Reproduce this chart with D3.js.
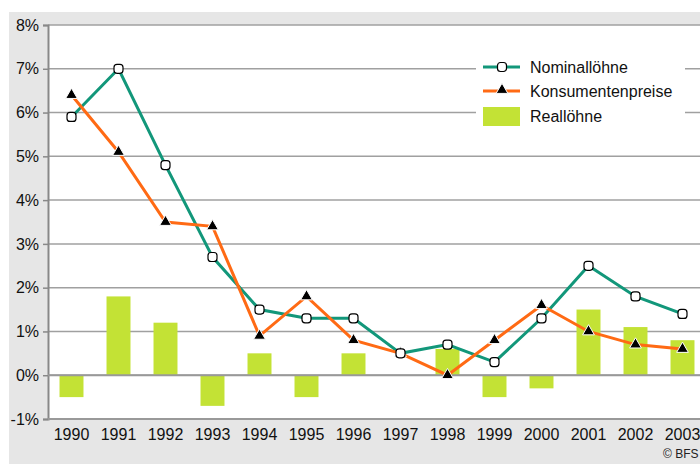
<!DOCTYPE html>
<html>
<head>
<meta charset="utf-8">
<script src="https://cdn.jsdelivr.net/npm/d3@7"></script>
<style>
  body { margin: 0; background: #fff; }
  svg { display: block; font-family: "Liberation Sans", Arial, sans-serif; }
  .grid line { stroke: #a0a0a0; stroke-width: 1.5; }
  .tick text { fill: #111; font-size: 16px; }
</style>
</head>
<body>
<svg id="chart" width="700" height="464"></svg>
<script>
var years = ['1990', '1991', '1992', '1993', '1994', '1995', '1996', '1997', '1998', '1999', '2000', '2001', '2002', '2003']
var nominal = [5.9, 7.0, 4.8, 2.7, 1.5, 1.3, 1.3, 0.5, 0.7, 0.3, 1.3, 2.5, 1.8, 1.4]
var prices = [6.4, 5.1, 3.5, 3.4, 0.9, 1.8, 0.8, 0.5, 0.0, 0.8, 1.6, 1.0, 0.7, 0.6]
var real = [-0.5, 1.8, 1.2, -0.7, 0.5, -0.5, 0.5, 0.0, 0.6, -0.5, -0.3, 1.5, 1.1, 0.8]
var yTicks = [-1, 0, 1, 2, 3, 4, 5, 6, 7, 8]
var seriesNames = ['Nominallöhne', 'Konsumentenpreise', 'Reallöhne']

var svg = d3.select('#chart')
var width = 700, height = 464
var plotLeft = 48, plotTop = 25, plotBottom = 419
var green = '#12977a', orange = '#ff6a14', lime = '#c3e235'

// background
svg.append('rect').attr('x', 9).attr('y', 12).attr('width', width - 9).attr('height', height - 12)
  .attr('fill', '#e6e6e6')

var x = d3.scaleBand().domain(years).range([plotLeft, plotLeft + 14 * 47])
  .paddingInner(0.49).paddingOuter(0.245)
var y = d3.scaleLinear().domain([-1, 8]).range([plotBottom, plotTop])

// plot area
svg.append('rect').attr('x', plotLeft).attr('y', plotTop)
  .attr('width', width - plotLeft).attr('height', plotBottom - plotTop)
  .attr('fill', '#fff')

// gridlines
svg.append('g').attr('class', 'grid')
  .selectAll('line').data(yTicks).enter().append('line')
  .attr('x1', plotLeft).attr('x2', width)
  .attr('y1', function(d) { return y(d) }).attr('y2', function(d) { return y(d) })

// y axis
var yAxis = svg.append('g').attr('transform', 'translate(' + plotLeft + ',0)')
  .call(d3.axisLeft(y).tickValues(yTicks).tickSize(5).tickPadding(4)
    .tickFormat(function(d) { return d + '%' }))
yAxis.select('.domain').attr('stroke', '#888').attr('stroke-width', 2)
yAxis.selectAll('.tick line').attr('stroke', '#888').attr('stroke-width', 1.5)

// x axis
var xAxis = svg.append('g').attr('transform', 'translate(0,' + plotBottom + ')')
  .call(d3.axisBottom(x).tickSize(0).tickPadding(10))
xAxis.select('.domain').remove()
svg.append('line').attr('x1', plotLeft).attr('x2', width).attr('y1', plotBottom).attr('y2', plotBottom)
  .attr('stroke', '#999').attr('stroke-width', 2)

// bars
svg.append('g').selectAll('rect').data(real).enter().append('rect')
  .attr('x', function(d, i) { return x(years[i]) })
  .attr('width', x.bandwidth())
  .attr('y', function(d) { return y(Math.max(0, d)) })
  .attr('height', function(d) { return Math.abs(y(d) - y(0)) })
  .attr('fill', lime)

// zero line over bars
svg.append('line').attr('x1', plotLeft).attr('x2', width).attr('y1', y(0)).attr('y2', y(0))
  .attr('stroke', '#999').attr('stroke-width', 2)

var cx = function(d, i) { return x(years[i]) + x.bandwidth() / 2 }
var line = d3.line().x(cx).y(function(d) { return y(d) })

svg.append('path').attr('d', line(nominal)).attr('fill', 'none')
  .attr('stroke', green).attr('stroke-width', 3)
svg.append('path').attr('d', line(prices)).attr('fill', 'none')
  .attr('stroke', orange).attr('stroke-width', 3)

var triangle = d3.symbol().type(d3.symbolTriangle).size(60)

svg.append('g').selectAll('path').data(prices).enter().append('path')
  .attr('d', triangle)
  .attr('transform', function(d, i) { return 'translate(' + cx(d, i) + ',' + y(d) + ')' })
  .attr('fill', '#000').attr('stroke', '#fff').attr('stroke-width', 1)

svg.append('g').selectAll('rect').data(nominal).enter().append('rect')
  .attr('x', function(d, i) { return cx(d, i) - 4.5 })
  .attr('y', function(d) { return y(d) - 4.5 })
  .attr('width', 9).attr('height', 9).attr('rx', 3)
  .attr('fill', '#fff').attr('stroke', '#000').attr('stroke-width', 1.2)

// legend
var legend = svg.append('g')
legend.append('rect').attr('x', 476).attr('y', 46).attr('width', 209).attr('height', 84).attr('fill', '#fff')
var rowY = [67, 91, 116]
seriesNames.forEach(function(name, i) {
  var g = legend.append('g').attr('transform', 'translate(0,' + rowY[i] + ')')
  if (i < 2) {
    g.append('line').attr('x1', 483).attr('x2', 520).attr('y1', 0).attr('y2', 0)
      .attr('stroke', i === 0 ? green : orange).attr('stroke-width', 3)
    if (i === 0) {
      g.append('rect').attr('x', 497.5).attr('y', -4.5).attr('width', 9).attr('height', 9).attr('rx', 3)
        .attr('fill', '#fff').attr('stroke', '#000').attr('stroke-width', 1.2)
    } else {
      g.append('path').attr('d', triangle).attr('transform', 'translate(502,-1)')
        .attr('fill', '#000').attr('stroke', '#fff').attr('stroke-width', 1)
    }
  } else {
    g.append('rect').attr('x', 483).attr('y', -9).attr('width', 37).attr('height', 19).attr('fill', lime)
  }
  g.append('text').attr('x', 530).attr('y', 6).attr('font-size', 16).attr('fill', '#111').text(name)
})

svg.append('text').attr('x', 663).attr('y', 458).attr('font-size', 12).attr('fill', '#222')
  .text('© BFS')
</script>
</body>
</html>
